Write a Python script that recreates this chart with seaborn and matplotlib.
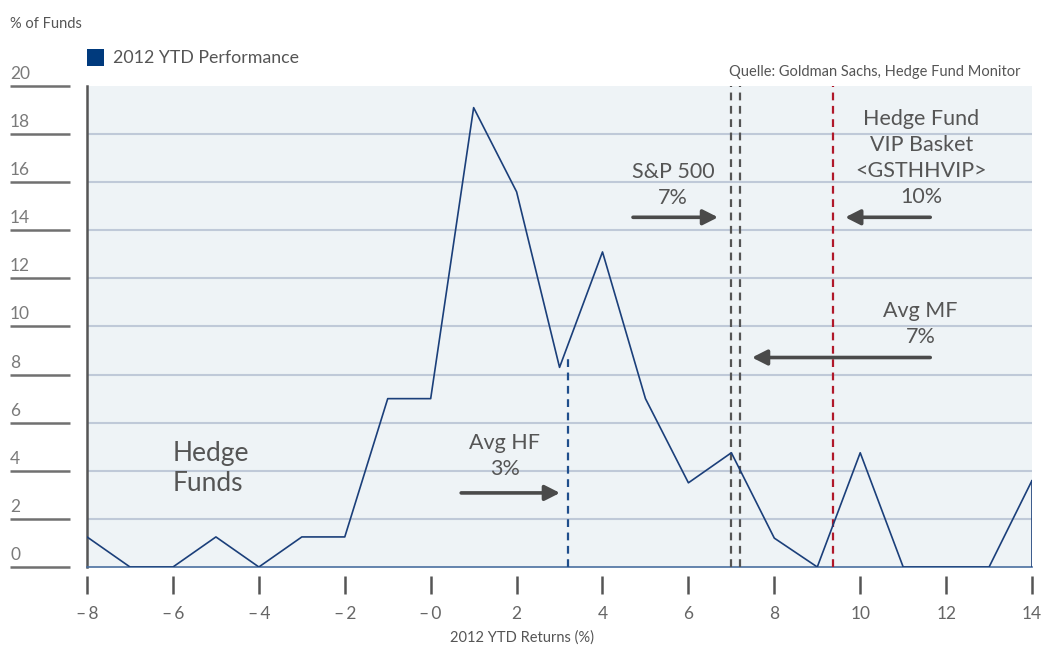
import numpy as np
import pandas as pd
import matplotlib
matplotlib.use("Agg")
import matplotlib.pyplot as plt
import matplotlib.transforms as mtransforms
import seaborn as sns

# Distribution of hedge fund 2012 YTD returns
returns = [-8, -7, -6, -5, -4, -3, -2, -1, 0, 1, 2, 3, 4, 5, 6, 7, 8, 9, 10, 11, 12, 13, 14]
pct_funds = [1.25, 0, 0, 1.25, 0, 1.25, 1.25, 7.0, 7.0, 19.1, 15.6, 8.3, 13.1, 7.0, 3.5,
             4.75, 1.2, 0, 4.75, 0, 0, 0, 3.6]

# Reference levels
avg_hf = 3.2
avg_hf_height = 8.7
sp500_lines = [7.0, 7.2]
vip_basket = 9.37

x_ticks = [-8, -6, -4, -2, 0, 2, 4, 6, 8, 10, 12, 14]
x_tick_labels = ["\u2013\u20098", "\u2013\u20096", "\u2013\u20094", "\u2013\u20092", "\u2013\u20090",
                 "2", "4", "6", "8", "10", "12", "14"]
y_ticks = [0, 2, 4, 6, 8, 10, 12, 14, 16, 18, 20]

df = pd.DataFrame({"ret": returns, "pct": pct_funds})

sns.set_theme(style="white")
plt.rcParams["font.family"] = ["Lato", "DejaVu Sans"]

TXT = "#555555"
NAVY = "#1B3F7A"

fig = plt.figure(figsize=(10.45, 6.46), dpi=100)
ax = fig.add_axes([0.0833, 0.1223, 0.9043, 0.7446])
ax.set_facecolor("#EEF3F6")

ax.set_xlim(-8, 14)
ax.set_ylim(0, 20)

# horizontal grid
for v in y_ticks[1:-1]:
    ax.axhline(v, color="#BFC9D8", lw=1.5, zorder=1)

sns.lineplot(data=df, x="ret", y="pct", ax=ax, color=NAVY, lw=1.2, zorder=4)
ax.vlines(returns[-1], 0, pct_funds[-1], color=NAVY, lw=1.2, zorder=4)

# reference lines
ax.vlines(avg_hf, 0, avg_hf_height, color="#1F4E8C", lw=1.6, linestyles=(0, (3.5, 2.5)), zorder=3)
for v in sp500_lines:
    ax.axvline(v, color="#555555", lw=1.6, ls=(0, (3.5, 2.5)), zorder=3)
ax.axvline(vip_basket, color="#B0182A", lw=1.6, ls=(0, (3.5, 2.5)), zorder=3)

# spines
for s in ["top", "right"]:
    ax.spines[s].set_visible(False)
ax.spines["left"].set_color("#555555")
ax.spines["left"].set_linewidth(1.8)
ax.spines["bottom"].set_color("#4A6FA0")
ax.spines["bottom"].set_linewidth(1.2)

# x ticks drawn slightly below the axis
ax.set_xticks(x_ticks)
ax.set_xticklabels([])
ax.tick_params(axis="x", length=0)
xtrans = mtransforms.blended_transform_factory(ax.transData, ax.transAxes)
for t, lab in zip(x_ticks, x_tick_labels):
    ax.plot([t, t], [-0.019, -0.057], transform=xtrans, color="#555555", lw=1.8,
            clip_on=False, solid_capstyle="butt")
    ax.text(t, -0.098, lab, transform=xtrans, ha="center", va="center",
            fontsize=12.5, color="#666666")

# y labels left-aligned with underline
ax.set_yticks(y_ticks)
ax.set_yticklabels([])
ax.tick_params(axis="y", length=0)
ytrans = mtransforms.blended_transform_factory(ax.transAxes, ax.transData)
for t in y_ticks:
    ax.plot([-0.0815, -0.018], [t, t], transform=ytrans, color="#707070", lw=1.8,
            clip_on=False, solid_capstyle="butt")
    ax.text(-0.0815, t + 0.17, str(t), transform=ytrans, ha="left", va="bottom",
            fontsize=12.5, color="#7a7a7a")

ax.set_xlabel("")
ax.set_ylabel("")
fig.text(0.5, 0.002, "2012 YTD Returns (%)", ha="center", va="bottom", fontsize=10.5, color=TXT)
fig.text(0.0096, 0.963, "% of Funds", ha="left", va="center", fontsize=10.5, color=TXT)

# legend
fig.patches.append(plt.Rectangle((0.0833, 0.898), 0.0163, 0.0263, transform=fig.transFigure,
                                 facecolor="#003A7D", edgecolor="none"))
fig.text(0.108, 0.910, "2012 YTD Performance", ha="left", va="center", fontsize=12.8, color=TXT)
fig.text(0.977, 0.889, "Quelle: Goldman Sachs, Hedge Fund Monitor", ha="right", va="center",
         fontsize=10.5, color=TXT)

# annotations
arrow_kw = dict(arrowstyle="-|>,head_length=0.75,head_width=0.38", color="#4A4A4A", lw=2.6,
                shrinkA=0, shrinkB=0)
ax.annotate("", xy=(avg_hf - 0.19, 3.08), xytext=(0.71, 3.08), arrowprops=arrow_kw, zorder=5)
ax.annotate("", xy=(sp500_lines[0] - 0.31, 14.54), xytext=(4.71, 14.54), arrowprops=arrow_kw, zorder=5)
ax.annotate("", xy=(vip_basket + 0.28, 14.54), xytext=(11.63, 14.54), arrowprops=arrow_kw, zorder=5)
ax.annotate("", xy=(sp500_lines[1] + 0.28, 8.71), xytext=(11.63, 8.71), arrowprops=arrow_kw, zorder=5)

tkw = dict(ha="center", va="center", fontsize=15.5, color=TXT, linespacing=1.37, zorder=6)
ax.text(1.73, 4.6, "Avg HF\n3%", **tkw)
ax.text(5.64, 15.9, "S&P 500\n7%", **tkw)
ax.text(11.42, 17.0, "Hedge Fund\nVIP Basket\n<GSTHHVIP>\n10%", **tkw)
ax.text(11.4, 10.1, "Avg MF\n7%", **tkw)
ax.text(-6.0, 4.1, "Hedge\nFunds", ha="left", va="center", fontsize=19, color=TXT,
        linespacing=1.25, zorder=6)

fig.savefig("out.png", dpi=100)
